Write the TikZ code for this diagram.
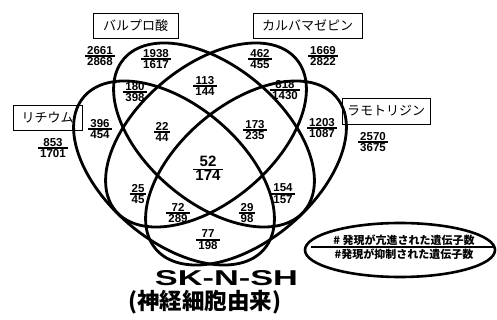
\documentclass[tikz,border=0pt]{standalone}
\usepackage{fontspec}
\setmainfont{Liberation Sans}
\newfontfamily\jp{Noto Sans CJK JP}
\newcommand{\fr}[2]{\begin{tabular}{@{\,}c@{\,}}#1\\[-1.5pt]\hline\rule{0pt}{8.5pt}#2\end{tabular}}
\begin{document}
\begin{tikzpicture}[x=1pt,y=-1pt,
  ell/.style={draw=black,line width=2.8pt},
  lbl/.style={draw=black,line width=0.7pt,inner sep=0pt,font=\jp\fontsize{13}{13}\selectfont,text=black},
  num/.style={inner sep=0pt,font=\fontsize{11.5}{12}\selectfont\bfseries},
  bignum/.style={inner sep=0pt,font=\fontsize{15}{16}\selectfont\bfseries}]
\useasboundingbox (0,0) rectangle (497,320);
\setlength{\arrayrulewidth}{1.2pt}
\renewcommand{\arraystretch}{0.8}
% ellipses
\draw[ell, rotate around={-40:(174,173)}] (174,173) ellipse [x radius=118, y radius=68];
\draw[ell, rotate around={-40:(214,135)}] (214,135) ellipse [x radius=118, y radius=68];
\draw[ell, rotate around={40:(206,135)}] (206,135) ellipse [x radius=118, y radius=68];
\draw[ell, rotate around={40:(246,173)}] (246,173) ellipse [x radius=118, y radius=68];
% labels
\node[lbl,minimum width=85pt,minimum height=25pt] (val) at (135.5,25.5) {バルプロ酸};
\node[lbl,minimum width=109pt,minimum height=25pt] (carb) at (307.5,25.5) {カルバマゼピン};
\node[lbl,minimum width=69pt,minimum height=25pt] (li) at (47.5,117.5) {リチウム};
\node[lbl,minimum width=88pt,minimum height=26pt] (lam) at (386,111) {ラモトリジン};
% numbers
\node[num] (n1) at (100,57) {\fr{2661}{2868}};
\node[num] (n2) at (156,60) {\fr{1938}{1617}};
\node[num] (n3) at (205,87) {\fr{113}{144}};
\node[num] (n4) at (260,60) {\fr{462}{455}};
\node[num] (n5) at (323,57) {\fr{1669}{2822}};
\node[num] (n6) at (135,93) {\fr{180}{398}};
\node[num] (n7) at (285,91) {\fr{818}{1430}};
\node[num] (n8) at (100,130) {\fr{396}{454}};
\node[num] (n9) at (53,149) {\fr{853}{1701}};
\node[num] (n10) at (162,133) {\fr{22}{44}};
\node[num] (n11) at (255,131) {\fr{173}{235}};
\node[num] (n12) at (322,129) {\fr{1203}{1087}};
\node[num] (n13) at (373,143) {\fr{2570}{3675}};
\node[bignum] (n14) at (208,170) {\fr{52}{174}};
\node[num] (n15) at (138,195) {\fr{25}{45}};
\node[num] (n16) at (178,214) {\fr{72}{289}};
\node[num] (n17) at (247,214) {\fr{29}{98}};
\node[num] (n18) at (283,195) {\fr{154}{157}};
\node[num] (n19) at (208,241) {\fr{77}{198}};
% title
\node[inner sep=0pt] (t1) at (226.5,278) {\resizebox{143pt}{15pt}{\bfseries SK-N-SH}};
\node[inner sep=0pt] (t2) at (204.5,302) {\resizebox{153pt}{!}{\jp\bfseries (神経細胞由来)}};
% legend
\draw[line width=2.6pt] (400,250) ellipse [x radius=95, y radius=27];
\draw[line width=1.8pt] (311,247) -- (495,247);
\node[inner sep=0pt,font=\jp\bfseries\fontsize{11}{11}\selectfont] (lg1) at (404,240) {\# 発現が亢進された遺伝子数};
\node[inner sep=0pt,font=\jp\bfseries\fontsize{11}{11}\selectfont] (lg2) at (404,254) {\#発現が抑制された遺伝子数};
\end{tikzpicture}
\end{document}
